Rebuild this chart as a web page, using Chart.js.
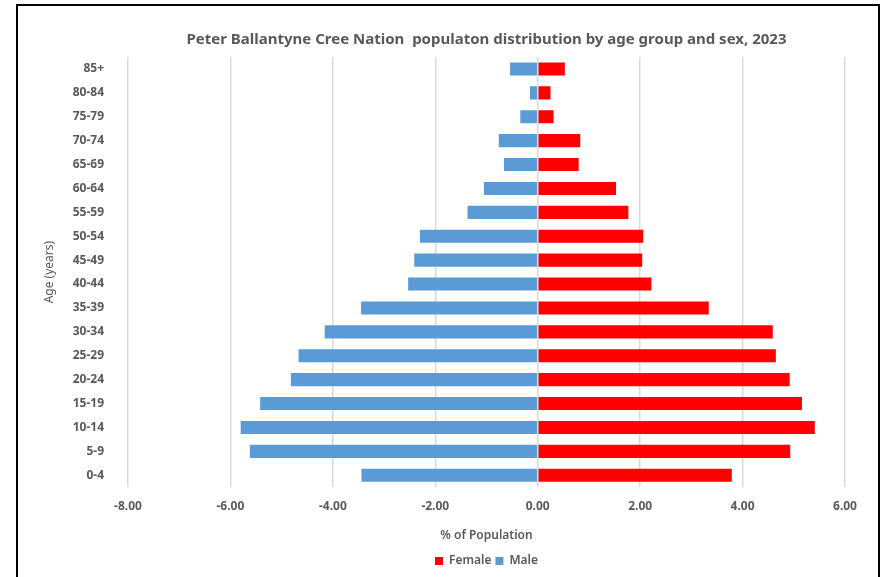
<!DOCTYPE html>
<html>
<head>
<meta charset="utf-8">
<title>Population pyramid</title>
<script src="https://cdn.jsdelivr.net/npm/chart.js@4/dist/chart.umd.min.js"></script>
<style>
  html, body { margin: 0; padding: 0; background: #fff; }
  .wrap { position: relative; width: 882px; height: 577px; overflow: hidden; }
  .frame {
    position: absolute; left: 16px; top: 4px; width: 860px; height: 600px;
    border: 2px solid #000; border-bottom: none; pointer-events: none;
  }
  canvas { position: absolute; left: 0; top: 0; }
</style>
</head>
<body>
<div class="wrap">
  <canvas id="pyramid" width="882" height="577"></canvas>
  <div class="frame"></div>
</div>
<script>
/* Age pyramid — males plotted as negative percentages on the left */

const ageGroups = ['85+', '80-84', '75-79', '70-74', '65-69', '60-64', '55-59', '50-54', '45-49',
  '40-44', '35-39', '30-34', '25-29', '20-24', '15-19', '10-14', '5-9', '0-4'];
const female = [0.53, 0.25, 0.31, 0.83, 0.80, 1.53, 1.77, 2.06, 2.04,
  2.22, 3.34, 4.59, 4.65, 4.92, 5.16, 5.41, 4.93, 3.79];
const male = [-0.54, -0.15, -0.34, -0.76, -0.66, -1.05, -1.37, -2.30, -2.41,
  -2.53, -3.45, -4.16, -4.67, -4.82, -5.42, -5.80, -5.62, -3.44];
const xTicks = [-8, -6, -4, -2, 0, 2, 4, 6];

(function () {
  'use strict';

  const grey = '#595959';
  const gridColor = '#d9d9d9';
  const font = "'Noto Sans', 'DejaVu Sans', sans-serif";

  Chart.defaults.color = grey;
  Chart.defaults.font.family = font;
  Chart.defaults.font.size = 12;

  new Chart(document.getElementById('pyramid'), {
    type: 'bar',
    data: {
      labels: ageGroups,
      datasets: [
        {
          label: 'Female',
          data: female,
          backgroundColor: '#FF0000',
          barPercentage: 0.55,
          categoryPercentage: 1
        },
        {
          label: 'Male',
          data: male,
          backgroundColor: '#5B9BD5',
          barPercentage: 0.55,
          categoryPercentage: 1
        }
      ]
    },
    options: {
      indexAxis: 'y',
      responsive: false,
      animation: false,
      layout: { padding: { left: 30, right: 37, top: 31, bottom: 0 } },
      plugins: {
        title: {
          display: true,
          text: 'Peter Ballantyne Cree Nation  populaton distribution by age group and sex, 2023',
          color: grey,
          fullSize: false,
          font: { size: 15, weight: 'bold' },
          padding: { top: 0, bottom: 8 }
        },
        legend: {
          position: 'bottom',
          fullSize: false,
          labels: {
            boxWidth: 8,
            boxHeight: 8,
            padding: 4,
            color: grey,
            font: { size: 12, weight: '600' }
          }
        },
        tooltip: { enabled: false }
      },
      scales: {
        x: {
          stacked: true,
          min: -8,
          max: 6,
          afterBuildTicks: (scale) => {
            scale.ticks = xTicks.map((v) => ({ value: v }));
          },
          ticks: {
            padding: 12,
            font: { weight: 'bold' },
            callback: (v) => Number(v).toFixed(2)
          },
          grid: { color: gridColor, lineWidth: 1.5, drawTicks: false },
          border: { display: false },
          title: {
            display: true,
            text: '% of Population',
            color: grey,
            font: { size: 12, weight: '600' },
            padding: { top: 3, bottom: 8 }
          }
        },
        y: {
          stacked: true,
          afterFit: (scale) => { scale.width = 98; },
          ticks: {
            padding: 16,
            font: { weight: 'bold' }
          },
          grid: { display: false },
          border: { display: false },
          title: {
            display: true,
            text: 'Age (years)',
            color: grey,
            font: { size: 12 },
            padding: { top: 12, bottom: 0 }
          }
        }
      }
    }
  });
})();
</script>
</body>
</html>
